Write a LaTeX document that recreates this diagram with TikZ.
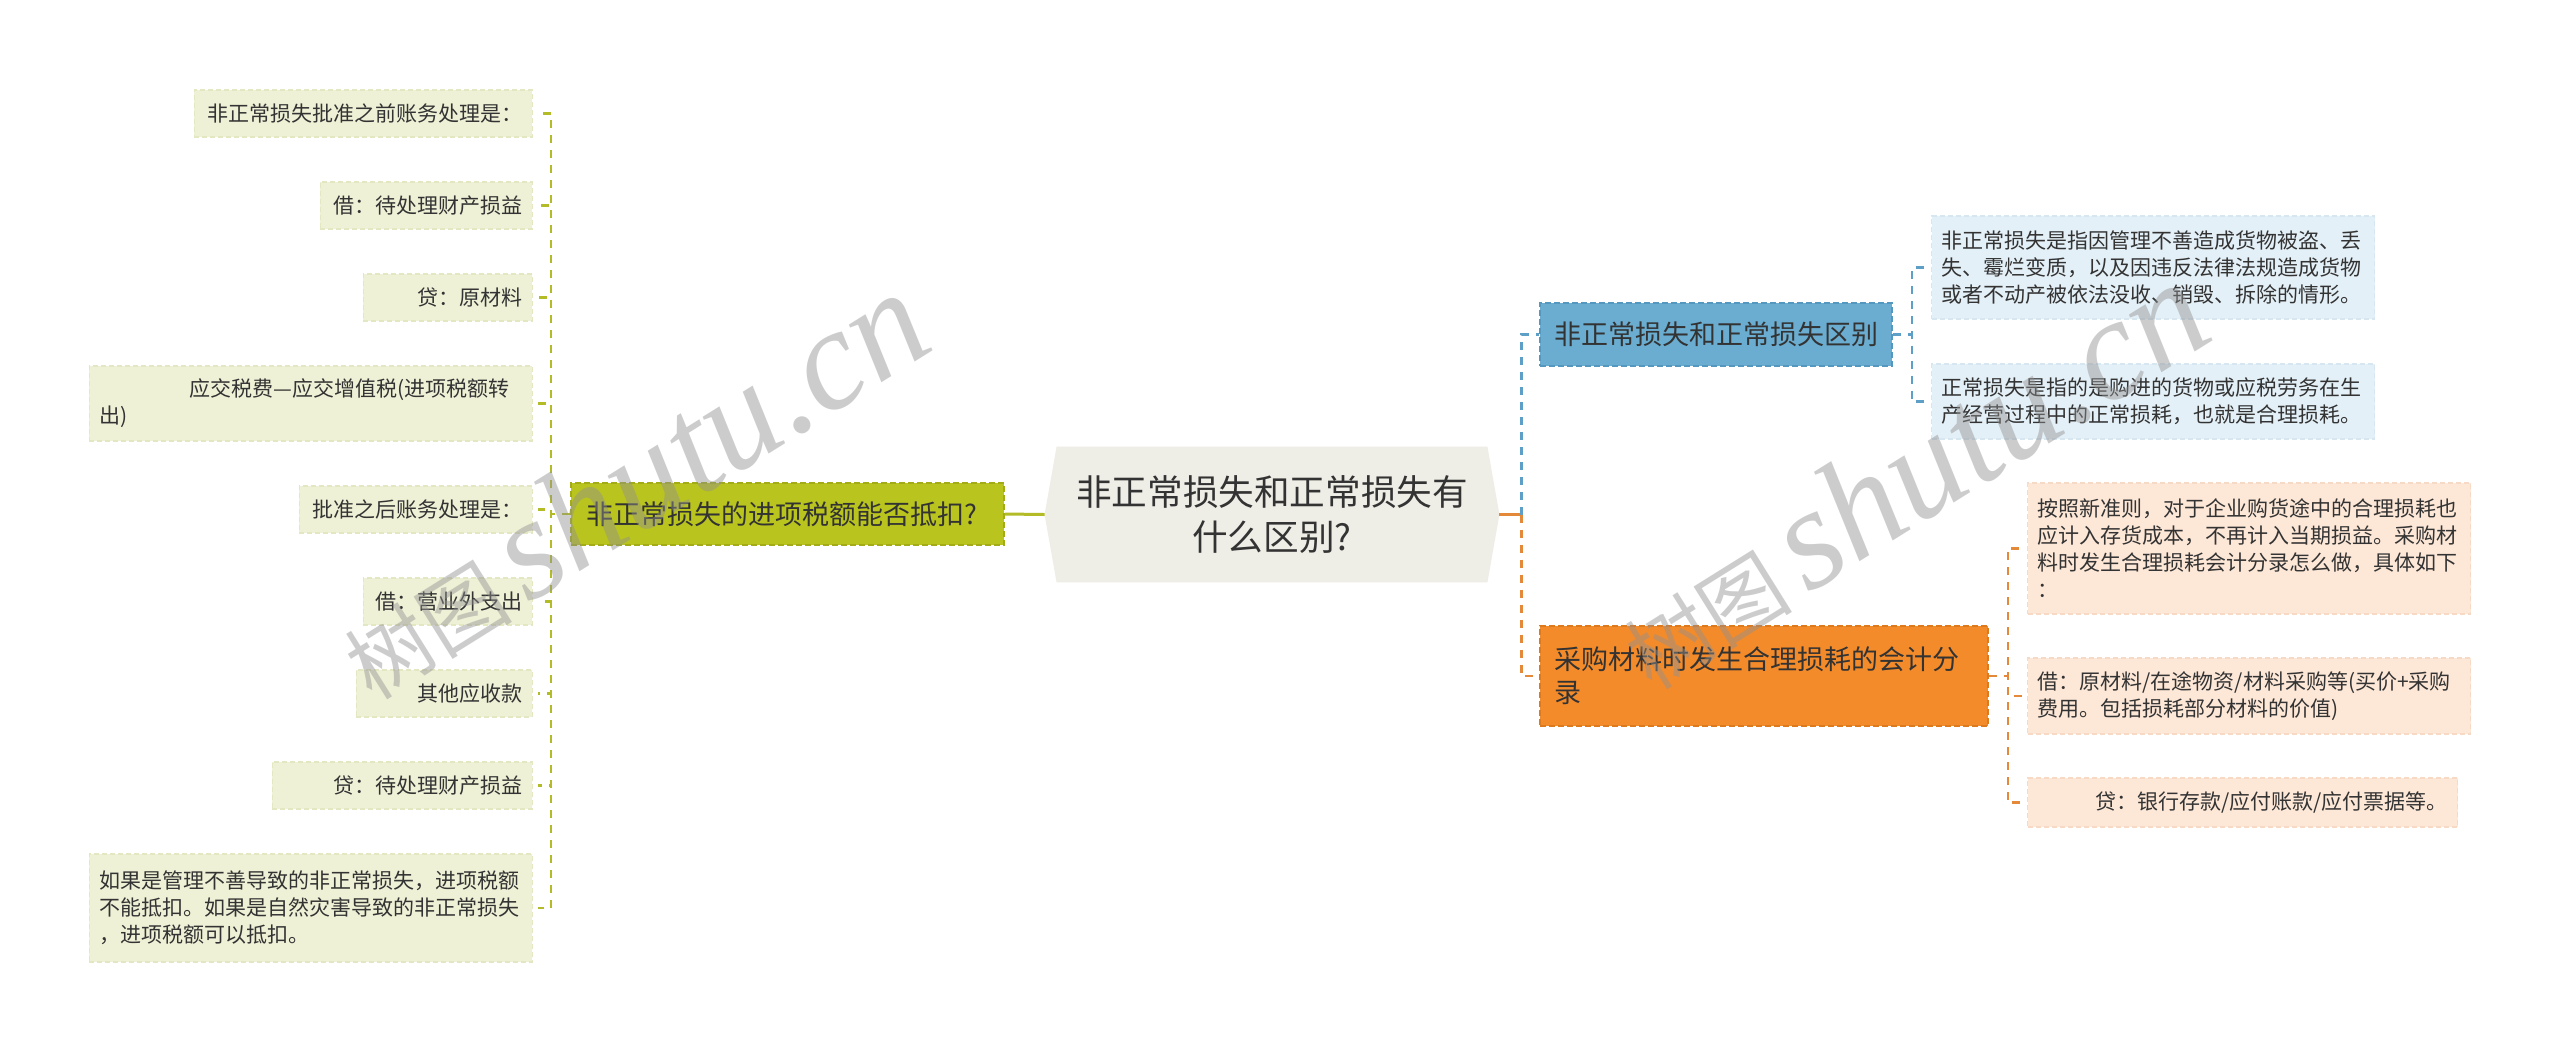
\documentclass[tikz,border=0pt]{standalone}
\usepackage{fontspec}
\setmainfont{Noto Sans CJK SC}
\newfontfamily\wmlatin{Liberation Serif}
\usetikzlibrary{backgrounds}
\definecolor{txt}{HTML}{333333}
\definecolor{lleaffill}{HTML}{EFF1D6}
\definecolor{lleafdraw}{HTML}{E3E7C2}
\definecolor{olivefill}{HTML}{BAC41E}
\definecolor{olivedark}{HTML}{A3AC16}
\definecolor{oliveconn}{HTML}{B3BC26}
\definecolor{centerfill}{HTML}{EEEDE6}
\definecolor{bluefill}{HTML}{6AADD1}
\definecolor{bluedark}{HTML}{5598BF}
\definecolor{blueconn}{HTML}{5D9FC6}
\definecolor{bleaffill}{HTML}{E4F0F7}
\definecolor{bleafdraw}{HTML}{D6E7F1}
\definecolor{orangefill}{HTML}{F48B2A}
\definecolor{orangedark}{HTML}{DE7A1E}
\definecolor{orangeconn}{HTML}{E4883A}
\definecolor{oleaffill}{HTML}{FDE7D7}
\definecolor{oleafdraw}{HTML}{F7DAC5}
\definecolor{wmgray}{HTML}{909090}
\newcommand\leafsz{\fontsize{10.5pt}{13.5pt}\selectfont}
\newcommand\mainsz{\fontsize{13.5pt}{16.5pt}\selectfont}
\newcommand\centersz{\fontsize{17.8pt}{22.5pt}\selectfont}
\begin{document}
\begin{tikzpicture}[x=0.5pt,y=-0.5pt,
  box/.style={rectangle, inner xsep=5pt, inner ysep=0pt, text=txt, font=\leafsz, line width=0.6pt, dash pattern=on 2.5pt off 1.5pt},
  lleaf/.style={box, fill=lleaffill, draw=lleafdraw},
  bleaf/.style={box, fill=bleaffill, draw=bleafdraw},
  oleaf/.style={box, fill=oleaffill, draw=oleafdraw},
  mainbox/.style={rectangle, inner ysep=0pt, text=txt, font=\mainsz, line width=0.8pt, dash pattern=on 3pt off 1.5pt},
  conn/.style={line width=1.2pt, dash pattern=on 4pt off 3.5pt},
  lconn/.style={conn, draw=oliveconn},
  bconn/.style={conn, draw=blueconn},
  oconn/.style={conn, draw=orangeconn},
  toleaf/.style={shorten >=2.5pt},
  wm/.style={text=wmgray, opacity=0.45, inner sep=0pt}
]
\useasboundingbox (0,0) rectangle (2560,1056);

% central topic
\node[inner sep=0pt, minimum width=227pt, minimum height=67.5pt, text=txt, font=\centersz, align=center] (c) at (1272,514.5) {非正常损失和正常损失有\\什么区别?};
\begin{scope}[on background layer]
  \fill[white] (0,0) rectangle (2560,1056);
  \fill[centerfill] ([xshift=6pt]c.north west) -- ([xshift=-6pt]c.north east) -- (c.east)
    -- ([xshift=-6pt]c.south east) -- ([xshift=6pt]c.south west) -- (c.west) -- cycle;
\end{scope}

% main branches
\node[mainbox, fill=olivefill, draw=olivedark, inner xsep=7.5pt, text width=201.5pt, minimum height=31pt, align=left] (lm) at (787.5,514) {非正常损失的进项税额能否抵扣?};
\node[mainbox, fill=bluefill, draw=bluedark, inner xsep=6pt, text width=164pt, minimum height=31.5pt, align=center] (bm) at (1716,334.5) {非正常损失和正常损失区别};
\node[mainbox, fill=orangefill, draw=orangedark, inner xsep=7pt, text width=210pt, minimum height=50pt, align=left] (om) at (1764,676) {采购材料时发生合理损耗的会计分\\录};

% left leaves
\node[lleaf, anchor=east, text width=159pt, minimum height=23.5pt, align=right] (L1) at (533,113.5) {非正常损失批准之前账务处理是：};
\node[lleaf, anchor=east, text width=96pt, minimum height=23.5pt, align=right] (L2) at (533,205.5) {借：待处理财产损益};
\node[lleaf, anchor=east, text width=74.5pt, minimum height=23.5pt, align=right] (L3) at (533,297.5) {贷：原材料};
\node[lleaf, anchor=east, text width=211.5pt, minimum height=37.5pt, align=left] (L4) at (533,403.5) {\hspace*{45pt}应交税费—应交增值税(进项税额转\\出)};
\node[lleaf, anchor=east, text width=106.5pt, minimum height=23.5pt, align=right] (L5) at (533,509.5) {批准之后账务处理是：};
\node[lleaf, anchor=east, text width=74.5pt, minimum height=23.5pt, align=right] (L6) at (533,601.5) {借：营业外支出};
\node[lleaf, anchor=east, text width=78pt, minimum height=23.5pt, align=right] (L7) at (533,693.5) {其他应收款};
\node[lleaf, anchor=east, text width=120pt, minimum height=23.5pt, align=right] (L8) at (533,785.5) {贷：待处理财产损益};
\node[lleaf, anchor=east, text width=211.5pt, minimum height=54pt, align=left] (L9) at (533,908) {如果是管理不善导致的非正常损失，进项税额\\不能抵扣。如果是自然灾害导致的非正常损失\\，进项税额可以抵扣。};

% blue leaves
\node[bleaf, anchor=west, text width=211.5pt, minimum height=51.5pt, align=left] (B1) at (1931,267.5) {非正常损失是指因管理不善造成货物被盗、丢\\失、霉烂变质，以及因违反法律法规造成货物\\或者不动产被依法没收、销毁、拆除的情形。};
\node[bleaf, anchor=west, text width=211.5pt, minimum height=37.5pt, align=left] (B2) at (1931,401.5) {正常损失是指的是购进的货物或应税劳务在生\\产经营过程中的正常损耗，也就是合理损耗。};

% orange leaves
\node[oleaf, anchor=west, text width=211.5pt, minimum height=65.5pt, align=left] (O1) at (2027,548.5) {按照新准则，对于企业购货途中的合理损耗也\\应计入存货成本，不再计入当期损益。采购材\\料时发生合理损耗会计分录怎么做，具体如下\\：};
\node[oleaf, anchor=west, text width=211.5pt, minimum height=38pt, align=left] (O2) at (2027,696) {借：原材料/在途物资/材料采购等(买价+采购\\费用。包括损耗部分材料的价值)};
\node[oleaf, anchor=west, text width=205pt, minimum height=24.5pt, align=right] (O3) at (2027,802.5) {贷：银行存款/应付账款/应付票据等。};

% connectors: centre to main branches
\draw[oliveconn, line width=1.5pt] (c.west) -- (lm.east);
\draw[orangeconn, line width=1.5pt] (c.east) -- ++(22,0) coordinate (rj);
\draw[bconn] (rj) |- (bm.west);
\draw[oconn] (rj) |- (om.west);

% left leaves
\foreach \n in {L1,L2,L3,L4,L5,L6,L7,L8,L9}
  \draw[lconn, toleaf] (lm.west) -- ++(-19,0) |- (\n.east);
% blue leaves
\foreach \n in {B1,B2}
  \draw[bconn, toleaf] (bm.east) -- ++(19,0) |- (\n.west);
% orange leaves
\foreach \n in {O1,O2,O3}
  \draw[oconn, toleaf] (om.east) -- ++(19,0) |- (\n.west);

% watermarks
\node[wm, rotate=32, anchor=base west] (wm1) at (372,702) {\fontsize{42pt}{42pt}\selectfont 树图\hspace{8pt}{\wmlatin\itshape\fontsize{72pt}{72pt}\selectfont shutu.cn}};
\node[wm, rotate=32, anchor=base west] (wm2) at (1652,692) {\fontsize{42pt}{42pt}\selectfont 树图\hspace{8pt}{\wmlatin\itshape\fontsize{72pt}{72pt}\selectfont shutu.cn}};
\end{tikzpicture}
\end{document}
